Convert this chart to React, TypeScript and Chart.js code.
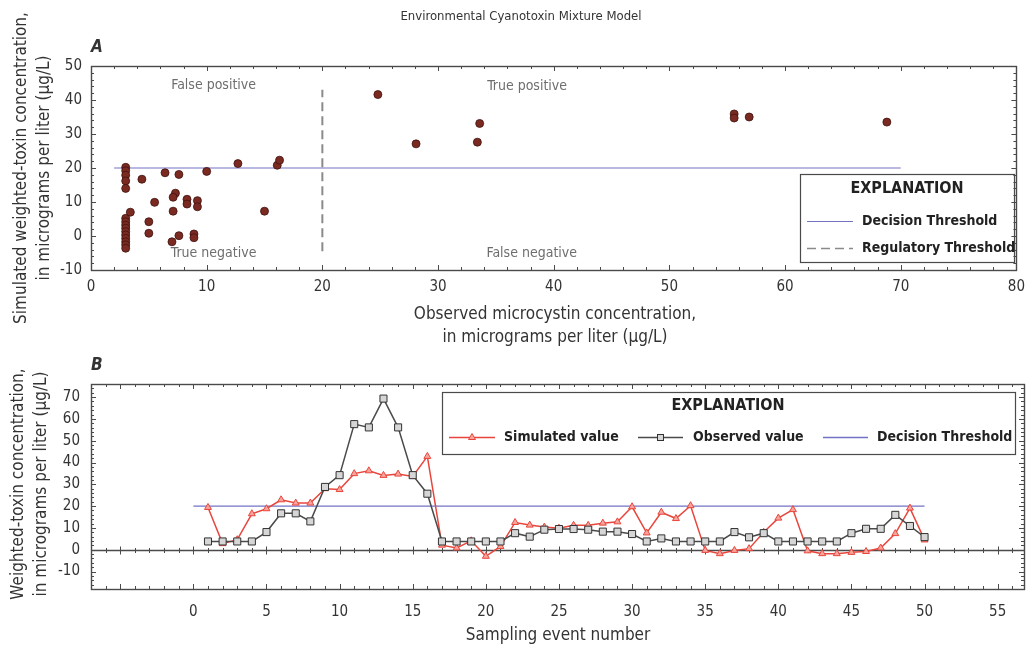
import React, { useEffect, useRef } from 'react';
import { Chart, registerables } from 'chart.js';
Chart.register(...registerables);

const FONT = "'Liberation Sans Narrow', 'DejaVu Sans Condensed', 'Arial Narrow', sans-serif";
const BLUE = '#7373c6';
const AXIS = '#4a4a4a';
const TEXT = '#333333';

// ---------- Panel A data ----------
const observedA = [
  3.0, 3.0, 3.0, 3.0, 3.0, 3.0, 3.0, 3.0, 3.0, 3.0, 3.0, 3.0, 3.0, 3.0, 3.0,
  3.4, 4.4, 5.0, 5.0, 5.5, 6.4, 7.6, 7.3, 7.1, 7.1, 7.0, 7.6, 8.3, 8.3, 9.2, 9.2, 8.9, 8.9,
  10.0, 12.7, 15.0, 16.1, 16.3, 24.8, 28.1, 33.4, 33.6, 55.6, 55.6, 56.9, 68.8,
];
const simulatedA = [
  20.2, 19.2, 17.9, 16.2, 14.0, 5.2, 4.2, 3.2, 2.3, 1.3, 0.3, -0.7, -1.7, -2.6, -3.6,
  7.0, 16.7, 4.2, 0.8, 9.9, 18.6, 18.1, 12.6, 11.4, 7.3, -1.7, 0.1, 10.8, 9.4, 10.4, 8.6, 0.6, -0.5,
  19.0, 21.3, 7.3, 20.8, 22.3, 41.6, 27.1, 27.6, 33.1, 35.9, 34.7, 35.0, 33.5,
];
const decisionThreshold = 20;
const decisionRangeA = [2, 70];
const regulatoryThreshold = 20;
const regulatoryRangeA = [-4.5, 43];
const xTicksA = [0, 10, 20, 30, 40, 50, 60, 70, 80];
const yTicksA = [-10, 0, 10, 20, 30, 40, 50];

// ---------- Panel B data ----------
const events = Array.from({ length: 50 }, (_, i) => i + 1);
const observedB = [
  3.8, 3.8, 3.8, 3.8, 8.1, 16.7, 16.7, 13.0, 28.8, 34.2,
  57.6, 56.1, 69.3, 56.1, 34.2, 25.7, 3.8, 3.8, 3.8, 3.8,
  3.8, 7.6, 6.0, 9.2, 9.5, 9.5, 9.2, 8.3, 8.3, 7.2,
  3.8, 5.2, 3.8, 3.8, 3.8, 3.8, 8.1, 5.7, 7.6, 3.8,
  3.8, 3.8, 3.8, 3.8, 7.6, 9.6, 9.6, 16.0, 10.9, 5.8,
];
const simulatedB = [
  19.4, 2.8, 4.6, 16.5, 18.8, 22.9, 21.4, 21.4, 28.0, 27.6,
  34.9, 36.2, 34.1, 34.7, 33.6, 42.8, 2.1, 0.8, 4.1, -3.0,
  1.5, 12.5, 11.3, 10.4, 9.9, 11.2, 11.2, 12.2, 12.8, 19.7,
  7.7, 17.2, 14.3, 20.2, -0.3, -1.8, -0.3, 0.5, 8.0, 14.5,
  18.4, -0.5, -1.8, -1.8, -1.2, -0.8, 0.8, 7.4, 19.1, 4.5,
];
const decisionRangeB = [0, 50];
const xTicksB = [0, 5, 10, 15, 20, 25, 30, 35, 40, 45, 50, 55];
const yTicksB = [-10, 0, 10, 20, 30, 40, 50, 60, 70];

// ---------- plugins ----------
const framePlugin = {
  id: 'frame',
  beforeDatasetsDraw(chart: any, _a: any, opts: any) {
    if (!opts.zeroLine) return;
    const { ctx, chartArea: a, scales } = chart;
    const y0 = Math.round(scales.y.getPixelForValue(0)) + 0.5;
    ctx.save();
    ctx.strokeStyle = AXIS;
    ctx.lineWidth = 1.4;
    ctx.beginPath();
    ctx.moveTo(a.left, y0);
    ctx.lineTo(a.right, y0);
    ctx.stroke();
    ctx.lineWidth = 1;
    const xs = scales.x;
    for (let v = Math.ceil(xs.min / opts.xMinor) * opts.xMinor; v <= xs.max + 1e-9; v += opts.xMinor) {
      const major = Math.abs(v / opts.xMajor - Math.round(v / opts.xMajor)) < 1e-6;
      const len = major ? 4 : 2.5;
      const px = Math.round(xs.getPixelForValue(v)) + 0.5;
      ctx.beginPath();
      ctx.moveTo(px, y0 - len);
      ctx.lineTo(px, y0 + len);
      ctx.stroke();
    }
    ctx.restore();
  },
  afterDatasetsDraw(chart: any, _a: any, opts: any) {
    const { ctx, chartArea: a, scales } = chart;
    const xs = scales.x;
    const ys = scales.y;
    ctx.save();
    ctx.strokeStyle = AXIS;
    ctx.lineWidth = 1;
    for (let v = Math.ceil(xs.min / opts.xMinor) * opts.xMinor; v <= xs.max + 1e-9; v += opts.xMinor) {
      const major = Math.abs(v / opts.xMajor - Math.round(v / opts.xMajor)) < 1e-6;
      const len = major ? 5 : 3;
      const px = Math.round(xs.getPixelForValue(v)) + 0.5;
      ctx.beginPath();
      ctx.moveTo(px, a.bottom);
      ctx.lineTo(px, a.bottom - len);
      ctx.moveTo(px, a.top);
      ctx.lineTo(px, a.top + len);
      ctx.stroke();
    }
    for (let v = Math.ceil(ys.min / opts.yMinor) * opts.yMinor; v <= ys.max + 1e-9; v += opts.yMinor) {
      const major = Math.abs(v / opts.yMajor - Math.round(v / opts.yMajor)) < 1e-6;
      const len = major ? 5 : 3;
      const py = Math.round(ys.getPixelForValue(v)) + 0.5;
      ctx.beginPath();
      ctx.moveTo(a.left, py);
      ctx.lineTo(a.left + len, py);
      ctx.moveTo(a.right, py);
      ctx.lineTo(a.right - len, py);
      ctx.stroke();
    }
    ctx.lineWidth = 1.4;
    ctx.strokeRect(Math.round(a.left) + 0.5, Math.round(a.top) + 0.5, Math.round(a.right - a.left), Math.round(a.bottom - a.top));
    ctx.restore();
  },
};

function rotatedText(ctx: CanvasRenderingContext2D, t: string, x: number, y: number) {
  ctx.save();
  ctx.translate(x, y);
  ctx.rotate(-Math.PI / 2);
  ctx.textAlign = 'center';
  ctx.textBaseline = 'middle';
  ctx.fillText(t, 0, 0);
  ctx.restore();
}

const textPluginA = {
  id: 'textA',
  afterDraw(chart: any) {
    const { ctx, scales } = chart;
    ctx.save();
    ctx.fillStyle = TEXT;
    ctx.textAlign = 'center';
    ctx.textBaseline = 'middle';
    ctx.font = `13px ${FONT}`;
    ctx.fillText('Environmental Cyanotoxin Mixture Model', 521, 17);
    ctx.font = `italic bold 17px ${FONT}`;
    ctx.textAlign = 'left';
    ctx.fillText('A', 91, 48);
    ctx.textAlign = 'center';
    ctx.font = `17px ${FONT}`;
    rotatedText(ctx, 'Simulated weighted-toxin concentration,', 22, 168);
    rotatedText(ctx, 'in micrograms per liter (\u00b5g/L)', 45, 168);
    ctx.fillText('Observed microcystin concentration,', 555, 315);
    ctx.fillText('in micrograms per liter (\u00b5g/L)', 555, 338);

    // quadrant labels
    ctx.fillStyle = '#6e6e6e';
    ctx.font = `14px ${FONT}`;
    const q = (t: string, x: number, y: number) =>
      ctx.fillText(t, scales.x.getPixelForValue(x), scales.y.getPixelForValue(y));
    q('False positive', 10.6, 44.4);
    q('True negative', 10.6, -5.0);
    q('True positive', 37.7, 43.9);
    q('False negative', 38.1, -5.1);

    // legend
    ctx.strokeStyle = AXIS;
    ctx.lineWidth = 1.2;
    ctx.strokeRect(800.5, 174.5, 214, 88);
    ctx.fillStyle = '#222';
    ctx.font = `bold 16px ${FONT}`;
    ctx.fillText('EXPLANATION', 907, 189);
    ctx.font = `bold 14px ${FONT}`;
    ctx.textAlign = 'left';
    ctx.fillText('Decision Threshold', 862, 221);
    ctx.fillText('Regulatory Threshold', 862, 248);
    ctx.strokeStyle = BLUE;
    ctx.lineWidth = 1.2;
    ctx.beginPath();
    ctx.moveTo(807, 221.5);
    ctx.lineTo(853, 221.5);
    ctx.stroke();
    ctx.strokeStyle = '#8a8a8a';
    ctx.lineWidth = 1.5;
    ctx.setLineDash([9, 5]);
    ctx.beginPath();
    ctx.moveTo(807, 248.5);
    ctx.lineTo(853, 248.5);
    ctx.stroke();
    ctx.restore();
  },
};

const SIM_COLOR = '#e8463c';
const OBS_COLOR = '#4a4a4a';

const textPluginB = {
  id: 'textB',
  afterDraw(chart: any) {
    const { ctx } = chart;
    ctx.save();
    ctx.fillStyle = TEXT;
    ctx.textBaseline = 'middle';
    ctx.font = `italic bold 17px ${FONT}`;
    ctx.textAlign = 'left';
    ctx.fillText('B', 91, 16);
    ctx.textAlign = 'center';
    ctx.font = `17px ${FONT}`;
    rotatedText(ctx, 'Weighted-toxin concentration,', 19, 134);
    rotatedText(ctx, 'in micrograms per liter (\u00b5g/L)', 42, 134);
    ctx.fillText('Sampling event number', 558, 286);

    // legend
    ctx.strokeStyle = AXIS;
    ctx.lineWidth = 1.2;
    ctx.strokeRect(442.5, 42.5, 573, 62);
    ctx.fillStyle = '#222';
    ctx.font = `bold 16px ${FONT}`;
    ctx.fillText('EXPLANATION', 728, 56);
    ctx.font = `bold 14px ${FONT}`;
    ctx.textAlign = 'left';
    const ly = 87;
    ctx.fillText('Simulated value', 504, ly);
    ctx.fillText('Observed value', 693, ly);
    ctx.fillText('Decision Threshold', 877, ly);
    const seg = (x1: number, x2: number, color: string) => {
      ctx.strokeStyle = color;
      ctx.lineWidth = 1.3;
      ctx.beginPath();
      ctx.moveTo(x1, ly + 0.5);
      ctx.lineTo(x2, ly + 0.5);
      ctx.stroke();
    };
    seg(449, 495, SIM_COLOR);
    seg(638, 683, OBS_COLOR);
    seg(823, 868, BLUE);
    ctx.fillStyle = '#f6a49c';
    ctx.strokeStyle = SIM_COLOR;
    ctx.lineWidth = 1;
    ctx.beginPath();
    ctx.moveTo(472, ly - 3.5);
    ctx.lineTo(475.5, ly + 2.5);
    ctx.lineTo(468.5, ly + 2.5);
    ctx.closePath();
    ctx.fill();
    ctx.stroke();
    ctx.fillStyle = '#d6d6d6';
    ctx.strokeStyle = '#333';
    ctx.fillRect(657, ly - 3, 7, 7);
    ctx.strokeRect(657.5, ly - 2.5, 6, 6);
    ctx.restore();
  },
};

const tickFont = { family: FONT, size: 15 };

export default function App() {
  const refA = useRef<HTMLCanvasElement>(null);
  const refB = useRef<HTMLCanvasElement>(null);

  useEffect(() => {
    const chartA = new Chart(refA.current as HTMLCanvasElement, {
      type: 'scatter',
      data: {
        datasets: [
          {
            label: 'Samples',
            data: observedA.map((x, i) => ({ x, y: simulatedA[i] })),
            pointRadius: 4,
            pointHoverRadius: 4,
            backgroundColor: '#7b2a22',
            borderColor: '#3f130e',
            borderWidth: 0.8,
          },
          {
            type: 'line',
            label: 'Decision Threshold',
            data: decisionRangeA.map((x) => ({ x, y: decisionThreshold })),
            borderColor: BLUE,
            borderWidth: 1.2,
            pointRadius: 0,
            fill: false,
          },
          {
            type: 'line',
            label: 'Regulatory Threshold',
            data: regulatoryRangeA.map((y) => ({ x: regulatoryThreshold, y })),
            borderColor: '#8a8a8a',
            borderWidth: 2,
            borderDash: [9, 5],
            pointRadius: 0,
            fill: false,
          },
        ],
      } as any,
      options: {
        responsive: false,
        animation: false,
        events: [],
        layout: { padding: { top: 66, right: 10, left: 0, bottom: 0 } },
        plugins: {
          legend: { display: false },
          tooltip: { enabled: false },
          frame: { xMinor: 2, xMajor: 10, yMinor: 2, yMajor: 10, zeroLine: false },
        } as any,
        scales: {
          x: {
            type: 'linear',
            min: 0,
            max: 80,
            afterBuildTicks: (s: any) => { s.ticks = xTicksA.map((value) => ({ value })); },
            afterFit: (s: any) => { s.height = 80; },
            grid: { display: false, drawTicks: false },
            border: { display: false },
            ticks: { padding: 8, color: TEXT, font: tickFont, maxRotation: 0 },
          },
          y: {
            type: 'linear',
            min: -10,
            max: 50,
            afterBuildTicks: (s: any) => { s.ticks = yTicksA.map((value) => ({ value })); },
            afterFit: (s: any) => { s.width = 91; },
            grid: { display: false, drawTicks: false },
            border: { display: false },
            ticks: { padding: 9, color: TEXT, font: tickFont },
          },
        },
      },
      plugins: [framePlugin, textPluginA],
    });

    const chartB = new Chart(refB.current as HTMLCanvasElement, {
      type: 'line',
      data: {
        datasets: [
          {
            label: 'Observed value',
            data: events.map((x, i) => ({ x, y: observedB[i] })),
            borderColor: OBS_COLOR,
            borderWidth: 1.5,
            pointStyle: 'rect',
            pointRadius: 5,
            pointBackgroundColor: '#d6d6d6',
            pointBorderColor: '#333',
            pointBorderWidth: 1,
            tension: 0,
          },
          {
            label: 'Simulated value',
            data: events.map((x, i) => ({ x, y: simulatedB[i] })),
            borderColor: SIM_COLOR,
            borderWidth: 1.5,
            pointStyle: 'triangle',
            pointRadius: 4,
            pointBackgroundColor: '#f6a49c',
            pointBorderColor: SIM_COLOR,
            pointBorderWidth: 1,
            tension: 0,
          },
          {
            label: 'Decision Threshold',
            data: decisionRangeB.map((x) => ({ x, y: decisionThreshold })),
            borderColor: BLUE,
            borderWidth: 1.2,
            pointRadius: 0,
          },
        ],
      } as any,
      options: {
        responsive: false,
        animation: false,
        events: [],
        layout: { padding: { top: 34, right: 9, left: 0, bottom: 0 } },
        plugins: {
          legend: { display: false },
          tooltip: { enabled: false },
          frame: { xMinor: 1, xMajor: 5, yMinor: 2, yMajor: 10, zeroLine: true },
        } as any,
        scales: {
          x: {
            type: 'linear',
            min: -7,
            max: 56.8,
            afterBuildTicks: (s: any) => { s.ticks = xTicksB.map((value) => ({ value })); },
            afterFit: (s: any) => { s.height = 61; },
            grid: { display: false, drawTicks: false },
            border: { display: false },
            ticks: { padding: 14, color: TEXT, font: tickFont, maxRotation: 0 },
          },
          y: {
            type: 'linear',
            min: -18,
            max: 76,
            afterBuildTicks: (s: any) => { s.ticks = yTicksB.map((value) => ({ value })); },
            afterFit: (s: any) => { s.width = 91; },
            grid: { display: false, drawTicks: false },
            border: { display: false },
            ticks: { padding: 11, color: TEXT, font: tickFont },
          },
        },
      },
      plugins: [framePlugin, textPluginB],
    });

    return () => {
      chartA.destroy();
      chartB.destroy();
    };
  }, []);

  return (
    <div style={{ position: 'absolute', left: 0, top: 0, width: 1033, height: 650, background: '#fff' }}>
      <canvas ref={refA} width={1033} height={350} style={{ position: 'absolute', left: 0, top: 0 }} />
      <canvas ref={refB} width={1033} height={300} style={{ position: 'absolute', left: 0, top: 350 }} />
    </div>
  );
}
